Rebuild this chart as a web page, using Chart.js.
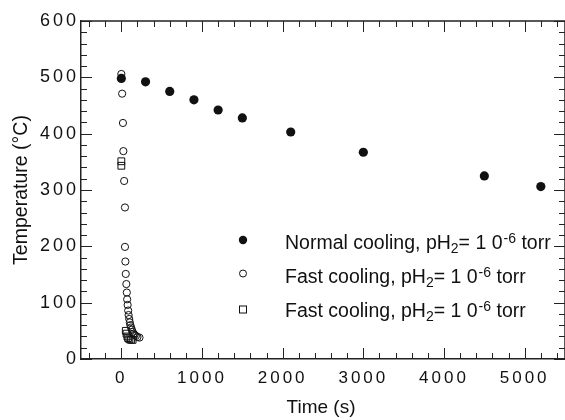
<!DOCTYPE html>
<html>
<head>
<meta charset="utf-8">
<script src="https://cdn.jsdelivr.net/npm/chart.js@4.4.0/dist/chart.umd.min.js"></script>
<style>
  html, body { margin: 0; padding: 0; background: #fff; }
  #wrap { width: 565px; height: 420px; }
</style>
</head>
<body>
<div id="wrap"><canvas id="chart" width="565" height="420"></canvas></div>
<script>
// time (s) / temperature (°C)
const normalTime = [0, 300, 600, 900, 1200, 1500, 2100, 3000, 4500, 5200];
const normalTemp = [498, 492, 475, 460, 442, 428, 403, 367, 325, 306];

const fastTime = [0, 10, 20, 25, 35, 45, 45, 50, 55, 62, 68, 72, 78, 85, 90, 98, 105, 112, 120, 130, 140, 152, 165, 180, 200, 225];
const fastTemp = [506, 471, 419, 369, 316, 269, 199, 173, 151, 133, 118, 106, 96, 86, 78, 71, 65, 60, 56, 52, 48, 45, 43, 41, 39, 38];

const squareTime = [0, 0, 55, 65, 75, 85, 100, 120, 140];
const squareTemp = [351, 343, 50, 45, 40, 37, 35, 34, 34];

const xTickValues = [0, 1000, 2000, 3000, 4000, 5000];
const yTickValues = [0, 100, 200, 300, 400, 500, 600];

const seriesNames = ["Normal cooling, pH", "Fast cooling, pH", "Fast cooling, pH"];

const FONT = "'Liberation Sans', Arial, Helvetica, sans-serif";
const INK = "#111";

function toPoints(xs, ys) {
    return xs.map((t, i) => ({ x: t, y: ys[i] }));
}

function drawRichLabel(ctx, x, y, head) {
    // head + subscript 2 + "= 1 0" + superscript -6 + " torr"
    ctx.font = "19.5px " + FONT;
    ctx.fillText(head, x, y);
    x += ctx.measureText(head).width;
    ctx.font = "14px " + FONT;
    ctx.fillText("2", x, y + 4);
    x += ctx.measureText("2").width;
    ctx.font = "19.5px " + FONT;
    ctx.fillText("= 1 0", x, y);
    x += ctx.measureText("= 1 0").width;
    ctx.font = "14px " + FONT;
    ctx.fillText("-6", x + 1, y - 6);
    x += ctx.measureText("-6").width + 1;
    ctx.font = "19.5px " + FONT;
    ctx.fillText(" torr", x, y);
}

const frame = {
    id: "frame",
    beforeDraw(chart) {
        chart.ctx.letterSpacing = "3px";
    },
    beforeDatasetsDraw(chart) {
        const { ctx, chartArea: a, scales: { x, y } } = chart;
        ctx.letterSpacing = "0px";
        ctx.save();
        ctx.strokeStyle = "#222";
        ctx.lineWidth = 1.5;
        ctx.beginPath();
        ctx.moveTo(a.left, a.top);
        ctx.lineTo(a.right, a.top);
        ctx.lineTo(a.right, a.bottom);
        ctx.stroke();

        ctx.lineWidth = 1;
        ctx.beginPath();
        for (let v = Math.ceil(x.min / 200) * 200; v <= x.max; v += 200) {
            const px = Math.round(x.getPixelForValue(v)) + 0.5;
            const len = v % 1000 === 0 ? 11 : 6;
            ctx.moveTo(px, a.bottom);
            ctx.lineTo(px, a.bottom - len);
            ctx.moveTo(px, a.top);
            ctx.lineTo(px, a.top + len);
        }
        for (let v = y.min; v <= y.max; v += 20) {
            const py = Math.round(y.getPixelForValue(v)) + 0.5;
            const len = v % 100 === 0 ? 11 : 6;
            ctx.moveTo(a.left, py);
            ctx.lineTo(a.left + len, py);
            ctx.moveTo(a.right, py);
            ctx.lineTo(a.right - len, py);
        }
        ctx.stroke();
        ctx.restore();
    },
    afterDraw(chart) {
        const { ctx, chartArea: a } = chart;
        ctx.save();
        ctx.letterSpacing = "0px";
        ctx.fillStyle = INK;
        ctx.strokeStyle = INK;

        // axis titles
        ctx.textAlign = "center";
        ctx.textBaseline = "middle";
        ctx.font = "19px " + FONT;
        ctx.fillText("Time (s)", 321, 408);
        ctx.save();
        ctx.translate(22, (a.top + a.bottom) / 2);
        ctx.rotate(-Math.PI / 2);
        ctx.font = "19.5px " + FONT;
        ctx.fillText("Temperature (\u00B0C)", 0, 0);
        ctx.restore();

        // legend
        const mx = 243;
        const markY = [240, 273.5, 309.5];
        const baseY = [249, 282.5, 317];
        ctx.lineWidth = 1;
        ctx.beginPath();
        ctx.arc(mx, markY[0], 4.2, 0, Math.PI * 2);
        ctx.fill();
        ctx.beginPath();
        ctx.arc(mx, markY[1], 3.5, 0, Math.PI * 2);
        ctx.stroke();
        ctx.strokeRect(mx - 3.5, markY[2] - 3.5, 7, 7);

        ctx.textAlign = "left";
        ctx.textBaseline = "alphabetic";
        seriesNames.forEach((name, i) => drawRichLabel(ctx, 285, baseY[i], name));
        ctx.restore();
    }
};

new Chart(document.getElementById("chart"), {
    type: "scatter",
    data: {
        datasets: [
            {
                label: "Normal cooling",
                data: toPoints(normalTime, normalTemp),
                pointStyle: "circle",
                pointRadius: 4.6,
                backgroundColor: INK,
                borderColor: INK,
                borderWidth: 0
            },
            {
                label: "Fast cooling (circles)",
                data: toPoints(fastTime, fastTemp),
                pointStyle: "circle",
                pointRadius: 3.6,
                backgroundColor: "rgba(255,255,255,0)",
                borderColor: INK,
                borderWidth: 1
            },
            {
                label: "Fast cooling (squares)",
                data: toPoints(squareTime, squareTemp),
                pointStyle: "rect",
                pointRadius: 4.8,
                backgroundColor: "rgba(255,255,255,0)",
                borderColor: INK,
                borderWidth: 1
            }
        ]
    },
    options: {
        responsive: false,
        animation: false,
        devicePixelRatio: 1,
        layout: { autoPadding: false, padding: { top: 21, right: -3, left: 0, bottom: 0 } },
        plugins: {
            legend: { display: false },
            tooltip: { enabled: false }
        },
        scales: {
            x: {
                type: "linear",
                min: -500,
                max: 5500,
                afterBuildTicks: s => { s.ticks = xTickValues.map(v => ({ value: v })); },
                afterFit: s => {
                    s.height = 61;
                    s.paddingLeft = 0;
                    s.paddingRight = -3;
                },
                ticks: {
                    autoSkip: false,
                    maxRotation: 0,
                    padding: 9,
                    color: INK,
                    font: { family: FONT, size: 17 },
                    callback: v => String(v)
                },
                grid: { drawOnChartArea: false, drawTicks: false },
                border: { display: true, color: "#222", width: 1.5 }
            },
            y: {
                type: "linear",
                min: 0,
                max: 600,
                afterBuildTicks: s => { s.ticks = yTickValues.map(v => ({ value: v })); },
                afterFit: s => {
                    s.width = 81;
                    s.paddingTop = 0;
                    s.paddingBottom = 0;
                    s.paddingRight = -3;
                },
                ticks: {
                    padding: 2,
                    color: INK,
                    font: { family: FONT, size: 18 },
                    callback: v => String(v)
                },
                grid: { drawOnChartArea: false, drawTicks: false },
                border: { display: true, color: "#222", width: 1.5 }
            }
        }
    },
    plugins: [frame]
});
</script>
</body>
</html>
